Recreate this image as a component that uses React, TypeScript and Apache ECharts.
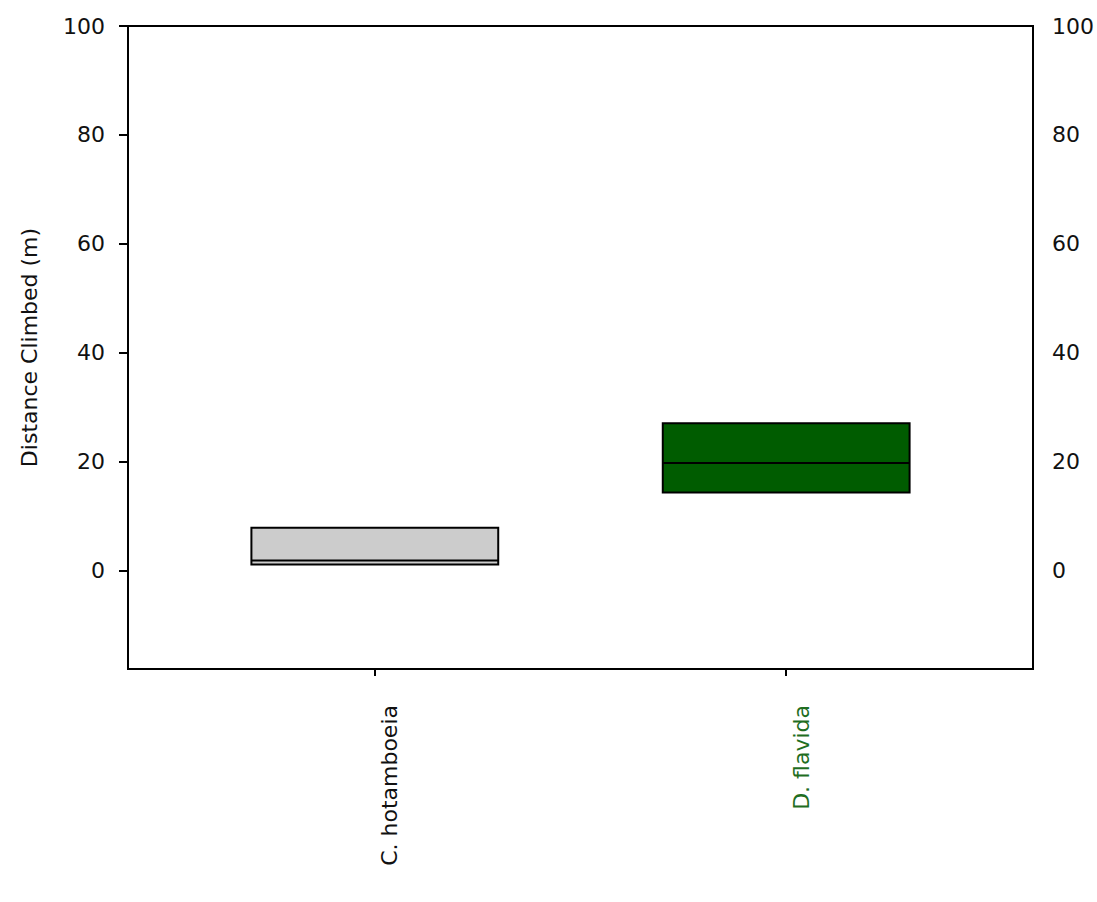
import React, { useEffect, useRef } from "react";
import * as echarts from "echarts";

const categories = ["C. hotamboeia", "D. flavida"];
const positions = [1, 2];
const q1Values = [1.2, 14.4];
const medianValues = [1.9, 19.8];
const q3Values = [7.9, 27.1];
const yTicks = [0, 20, 40, 60, 80, 100];

const boxFills = ["#cccccc", "#005c00"];
const labelColors = ["#111111", "#1f6e1f"];
const BOX_HALF = 0.3;
const FONT = "DejaVu Sans, Verdana, sans-serif";
const FS = 22;

export default function App() {
  const ref = useRef<HTMLDivElement>(null);
  useEffect(() => {
    document.body.style.margin = "0";
    const chart = echarts.init(ref.current!, null, { renderer: "svg" });
    const data = positions.map((p, i) => [p, q1Values[i], medianValues[i], q3Values[i]]);
    chart.setOption({
      animation: false,
      backgroundColor: "#ffffff",
      grid: {
        left: 128,
        right: 64,
        top: 26,
        bottom: 233,
        show: true,
        borderColor: "#000",
        borderWidth: 2,
        containLabel: false,
      },
      xAxis: {
        type: "value",
        min: 0.4,
        max: 2.6,
        splitLine: { show: false },
        axisLine: { show: true, onZero: false, lineStyle: { color: "#000", width: 2 } },
        axisTick: { show: true, customValues: positions, length: 7, lineStyle: { color: "#000", width: 2 } },
        axisLabel: {
          customValues: positions,
          rotate: 90,
          margin: 36,
          fontSize: FS,
          fontFamily: FONT,
          padding: [30, 0, 0, 0],
          formatter: (v: number) => {
            const i = positions.indexOf(Math.round(v));
            return i >= 0 ? `{c${i}|${categories[i]}}` : "";
          },
          rich: {
            c0: { color: labelColors[0], fontSize: FS, fontFamily: FONT },
            c1: { color: labelColors[1], fontSize: FS, fontFamily: FONT },
          },
        },
      },
      yAxis: [
        {
          type: "value",
          min: -18,
          max: 100,
          position: "left",
          name: "Distance Climbed (m)",
          nameLocation: "middle",
          nameGap: 88,
          nameRotate: 90,
          nameTextStyle: { fontSize: FS, fontFamily: FONT, color: "#111" },
          splitLine: { show: false },
          axisLine: { show: true, onZero: false, lineStyle: { color: "#000", width: 2 } },
          axisTick: { show: true, customValues: yTicks, length: 9, lineStyle: { color: "#000", width: 2 } },
          axisLabel: { customValues: yTicks, margin: 23, fontSize: FS, fontFamily: FONT, color: "#111" },
        },
        {
          type: "value",
          min: -18,
          max: 100,
          position: "right",
          splitLine: { show: false },
          axisLine: { show: true, onZero: false, lineStyle: { color: "#000", width: 2 } },
          axisTick: { show: false },
          axisLabel: { customValues: yTicks, margin: 19, fontSize: FS, fontFamily: FONT, color: "#111" },
        },
      ],
      series: [
        {
          type: "custom",
          data,
          encode: { x: 0, y: [1, 2, 3] },
          renderItem: (params: any, api: any) => {
            const x = api.value(0);
            const q1 = api.value(1);
            const med = api.value(2);
            const q3 = api.value(3);
            const tl = api.coord([x - BOX_HALF, q3]);
            const br = api.coord([x + BOX_HALF, q1]);
            const ml = api.coord([x - BOX_HALF, med]);
            const mr = api.coord([x + BOX_HALF, med]);
            return {
              type: "group",
              children: [
                {
                  type: "rect",
                  shape: { x: tl[0], y: tl[1], width: br[0] - tl[0], height: br[1] - tl[1] },
                  style: { fill: boxFills[params.dataIndex], stroke: "#000", lineWidth: 2 },
                },
                {
                  type: "line",
                  shape: { x1: ml[0], y1: ml[1], x2: mr[0], y2: mr[1] },
                  style: { stroke: "#000", lineWidth: 2 },
                },
              ],
            };
          },
        },
      ],
    });
    return () => chart.dispose();
  }, []);
  return <div ref={ref} style={{ width: 1097, height: 902 }} />;
}
